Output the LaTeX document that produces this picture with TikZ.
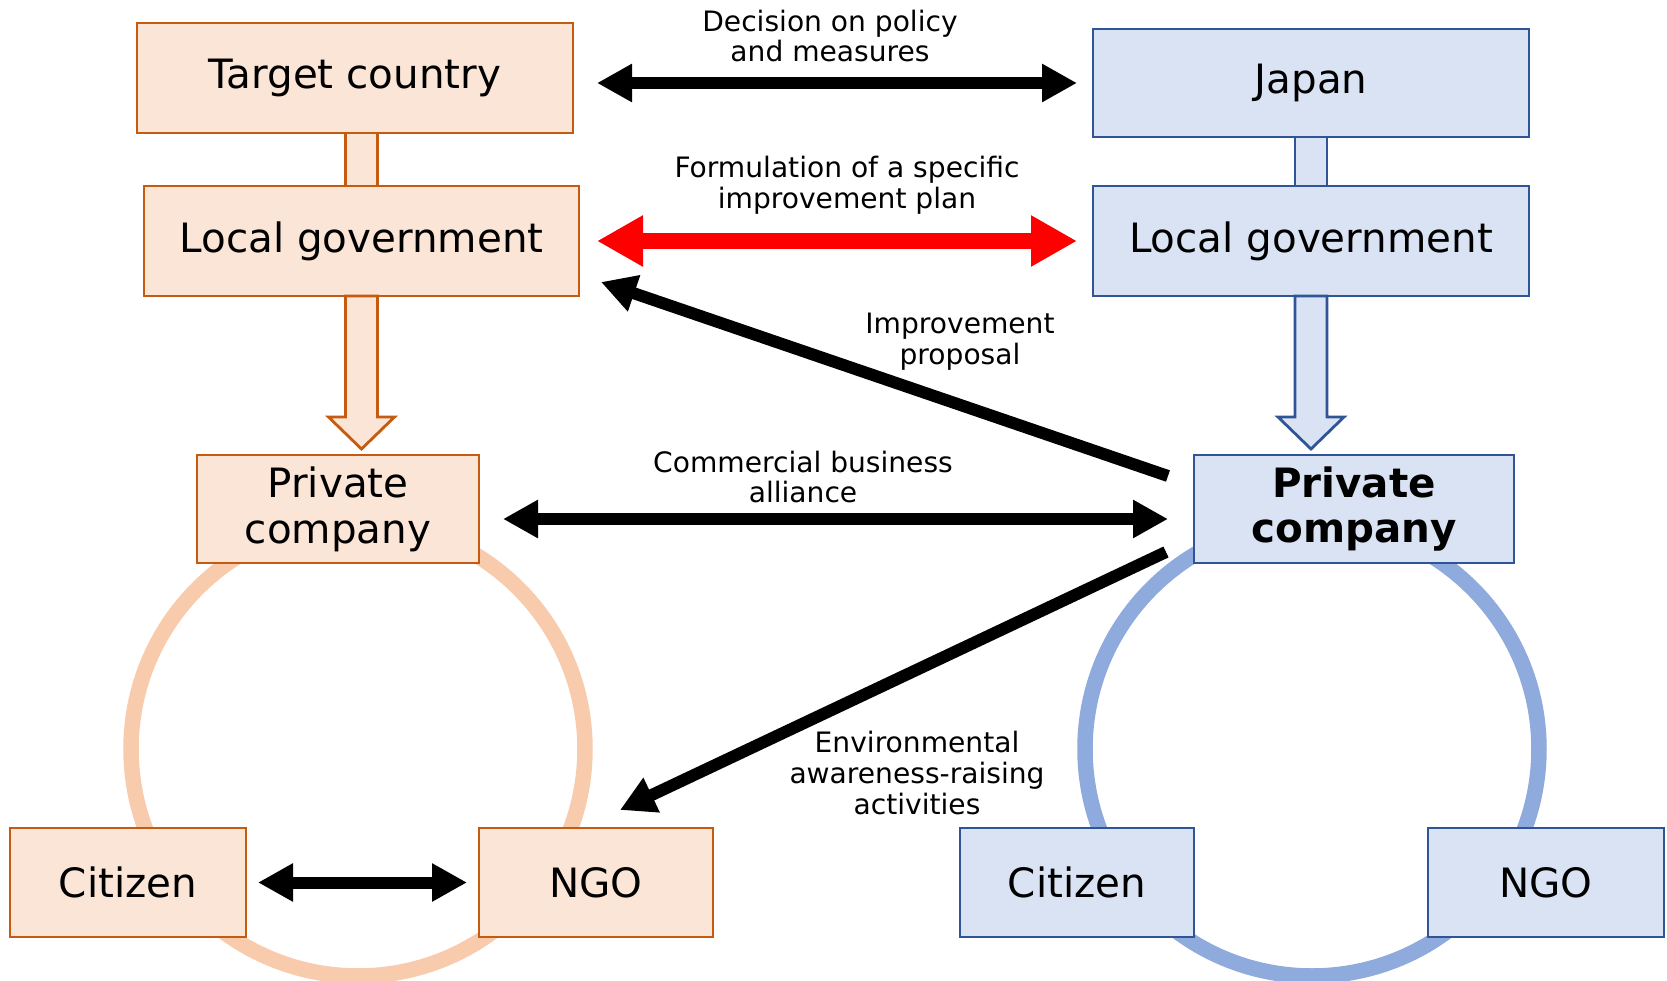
\documentclass[tikz,border=0pt]{standalone}
\usepackage{fontspec}
\setmainfont{DejaVu Sans}
\usetikzlibrary{arrows.meta}

\definecolor{orgFill}{HTML}{FBE5D6}
\definecolor{orgLine}{HTML}{C55A11}
\definecolor{orgRing}{HTML}{F8CBAD}
\definecolor{bluFill}{HTML}{DAE3F3}
\definecolor{bluLine}{HTML}{2F5597}
\definecolor{bluRing}{HTML}{8FAADC}

\tikzset{
  box/.style={draw, line width=0.8pt, inner sep=0pt, outer sep=0pt, align=center,
    font=\fontsize{11.5}{13}\selectfont},
  orgbox/.style={box, draw=orgLine, fill=orgFill},
  blubox/.style={box, draw=bluLine, fill=bluFill},
  lbl/.style={align=center, font=\fontsize{8}{8.8}\selectfont},
  blkhead/.tip={Triangle[length=0.35cm, width=0.36cm]},
  redhead/.tip={Triangle[length=0.46cm, width=0.48cm]},
  twoway/.style={line width=0.12cm, blkhead-blkhead},
  oneway/.style={line width=0.12cm, -blkhead},
  ring/.style={line width=0.155cm}
}

\begin{document}
\begin{tikzpicture}
\useasboundingbox (0,0) rectangle (16.67,9.80);

% Ringe
\draw[ring, orgRing] (3.58,2.31) circle (2.27);
\draw[ring, bluRing] (13.12,2.31) circle (2.27);

% Kaesten links
\node[orgbox, minimum width=4.36cm, minimum height=1.10cm] (tc) at (3.55,9.02) {Target country};
\node[orgbox, minimum width=4.35cm, minimum height=1.10cm] (lgL) at (3.615,7.39) {Local government};
\node[orgbox, minimum width=2.82cm, minimum height=1.08cm] (pcL) at (3.38,4.71) {Private\\company};
\node[orgbox, minimum width=2.36cm, minimum height=1.09cm] (citL) at (1.28,0.975) {Citizen};
\node[orgbox, minimum width=2.34cm, minimum height=1.09cm] (ngoL) at (5.96,0.975) {NGO};

% Kaesten rechts
\node[blubox, minimum width=4.36cm, minimum height=1.08cm] (jp) at (13.11,8.97) {Japan};
\node[blubox, minimum width=4.36cm, minimum height=1.10cm] (lgR) at (13.11,7.39) {Local government};
\node[blubox, minimum width=3.20cm, minimum height=1.08cm, font=\fontsize{11.5}{13}\selectfont\bfseries] (pcR) at (13.54,4.71) {Private\\company};
\node[blubox, minimum width=2.34cm, minimum height=1.09cm] (citR) at (10.77,0.975) {Citizen};
\node[blubox, minimum width=2.36cm, minimum height=1.09cm] (ngoR) at (15.46,0.975) {NGO};

% Verbindungen
\draw[orgLine, fill=orgFill, line width=0.8pt] ([xshift=-0.16cm]lgL.north) -- ([xshift=-0.16cm]lgL.north |- tc.south)
  -- ([xshift=0.16cm]lgL.north |- tc.south) -- ([xshift=0.16cm]lgL.north) -- cycle;
\draw[bluLine, fill=bluFill, line width=0.8pt] ([xshift=-0.16cm]lgR.north) -- ([xshift=-0.16cm]lgR.north |- jp.south)
  -- ([xshift=0.16cm]lgR.north |- jp.south) -- ([xshift=0.16cm]lgR.north) -- cycle;

\coordinate (tipL) at ([yshift=0.06cm]lgL.south |- pcL.north);
\coordinate (tipR) at ([yshift=0.06cm]lgR.south |- pcR.north);
\draw[orgLine, fill=orgFill, line width=0.8pt] ([xshift=-0.16cm]lgL.south) -- ([xshift=-0.16cm,yshift=0.32cm]tipL)
  -- ([xshift=-0.33cm,yshift=0.32cm]tipL) -- (tipL) -- ([xshift=0.33cm,yshift=0.32cm]tipL)
  -- ([xshift=0.16cm,yshift=0.32cm]tipL) -- ([xshift=0.16cm]lgL.south) -- cycle;
\draw[bluLine, fill=bluFill, line width=0.8pt] ([xshift=-0.16cm]lgR.south) -- ([xshift=-0.16cm,yshift=0.32cm]tipR)
  -- ([xshift=-0.33cm,yshift=0.32cm]tipR) -- (tipR) -- ([xshift=0.33cm,yshift=0.32cm]tipR)
  -- ([xshift=0.16cm,yshift=0.32cm]tipR) -- ([xshift=0.16cm]lgR.south) -- cycle;

% Pfeile
\draw[twoway, shorten <=0.24cm, shorten >=0.16cm] (tc.east |- jp.west) -- (jp.west);
\draw[red, line width=0.16cm, redhead-redhead, shorten <=0.18cm, shorten >=0.16cm] (lgL.east) -- (lgR.west);
\draw[oneway] ([xshift=-0.26cm,yshift=0.33cm]pcR.west) -- ([xshift=0.22cm,yshift=0.14cm]lgL.south east);
\draw[twoway, shorten <=0.24cm, shorten >=0.26cm] ([yshift=-0.1cm]pcL.east) -- ([yshift=-0.1cm]pcR.west);
\draw[oneway] ([xshift=-0.28cm,yshift=-0.43cm]pcR.west) -- ([xshift=0.24cm,yshift=0.18cm]ngoL.north);
\draw[twoway, shorten <=0.12cm, shorten >=0.12cm] (citL.east) -- (ngoL.west);

% Beschriftungen
\node[lbl] (decLbl) at (8.30,9.44) {Decision on policy\\and measures};
\node[lbl] (formLbl) at (8.47,7.95) {Formulation of a specific\\improvement plan};
\node[lbl] (impLbl) at (9.60,6.38) {Improvement\\proposal};
\node[lbl] (comLbl) at (8.03,5.03) {Commercial business\\alliance};
\node[lbl] (envLbl) at (9.17,2.07) {Environmental\\awareness-raising\\activities};
\end{tikzpicture}
\end{document}
